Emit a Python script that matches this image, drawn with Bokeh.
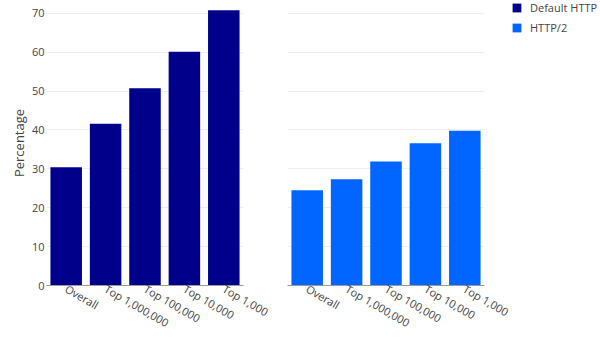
import math
from bokeh.plotting import figure
from bokeh.models import (ColumnDataSource, FactorRange, Range1d, Legend, LegendItem,
                          FixedTicker)
from bokeh.layouts import row
from bokeh.embed import file_html
from bokeh.resources import INLINE

categories = ["Overall", "Top 1,000,000", "Top 100,000", "Top 10,000", "Top 1,000"]
default_http = [30.4, 41.6, 50.7, 60.1, 70.8]
http2 = [24.5, 27.3, 31.9, 36.6, 39.8]
series_names = ["Default HTTP", "HTTP/2"]
y_ticks = [0, 10, 20, 30, 40, 50, 60, 70]

DARK = "#00008B"
LIGHT = "#0066FF"
FONT = "Open Sans"
TXT = "#444444"

y_range = Range1d(0, 73.3)

def base_fig(width, left, right):
    p = figure(x_range=FactorRange(*categories), y_range=y_range, width=width, height=339,
               output_backend="svg", toolbar_location=None,
               min_border_left=left, min_border_right=right, min_border_top=0,
               min_border_bottom=40, outline_line_color=None)
    p.background_fill_color = "white"
    p.border_fill_color = "white"
    p.xgrid.visible = False
    p.ygrid.grid_line_color = "#eeeeee"
    p.ygrid.ticker = FixedTicker(ticks=y_ticks)
    p.yaxis.ticker = FixedTicker(ticks=y_ticks)
    ax = p.xaxis
    ax.axis_line_color = "#9a9a9a"
    ax.major_tick_line_color = None
    ax.minor_tick_line_color = None
    ax.major_tick_out = 0
    ax.major_tick_in = 0
    ax.major_label_orientation = -math.pi / 6
    ax.major_label_standoff = 2
    ax.major_label_text_font = FONT
    ax.major_label_text_font_size = "11px"
    ax.major_label_text_color = TXT
    return p

# left panel
p1 = base_fig(275, 46, 32)
src1 = ColumnDataSource(dict(x=categories, top=default_http))
r1 = p1.vbar(x="x", top="top", width=0.8, source=src1, fill_color=DARK, line_color=None)
p1.yaxis.axis_line_color = None
p1.yaxis.major_tick_line_color = None
p1.yaxis.minor_tick_line_color = None
p1.yaxis.major_tick_out = 0
p1.yaxis.minor_tick_out = 0
p1.yaxis.major_label_standoff = 2
p1.yaxis.major_label_text_font = FONT
p1.yaxis.major_label_text_font_size = "11px"
p1.yaxis.major_label_text_color = TXT
p1.yaxis.axis_label = "Percentage"
p1.yaxis.axis_label_text_font = FONT
p1.yaxis.axis_label_text_font_size = "13px"
p1.yaxis.axis_label_text_font_style = "normal"
p1.yaxis.axis_label_text_color = TXT
p1.yaxis.axis_label_standoff = 1

# right panel
p2 = base_fig(236, 12, 27)
p2.yaxis.visible = False
src2 = ColumnDataSource(dict(x=categories, top=http2))
r2 = p2.vbar(x="x", top="top", width=0.8, source=src2, fill_color=LIGHT, line_color=None)

# legend panel: same series as muted (hidden) renderers, only their legend shows
p3 = figure(width=89, height=339, output_backend="svg", toolbar_location=None,
            x_range=FactorRange(*categories), y_range=y_range,
            x_axis_location=None, y_axis_location=None, min_border=0,
            outline_line_color=None)
p3.grid.visible = False
lr1 = p3.vbar(x="x", top="top", width=0.8, source=src1, fill_color=DARK, line_color=None,
              muted_alpha=0)
lr2 = p3.vbar(x="x", top="top", width=0.8, source=src2, fill_color=LIGHT, line_color=None,
              muted_alpha=0)
lr1.muted = True
lr2.muted = True
legend = Legend(items=[LegendItem(label=series_names[0], renderers=[lr1]),
                       LegendItem(label=series_names[1], renderers=[lr2])],
                location="top_left", orientation="vertical",
                glyph_width=11, glyph_height=11, label_height=11, spacing=5,
                label_standoff=8, padding=0, margin=0,
                border_line_color=None, background_fill_alpha=0,
                label_text_font=FONT, label_text_font_size="11px",
                label_text_color=TXT)
p3.add_layout(legend, "center")

layout = row(p1, p2, p3)
open("out.html", "w").write(file_html(layout, INLINE))
